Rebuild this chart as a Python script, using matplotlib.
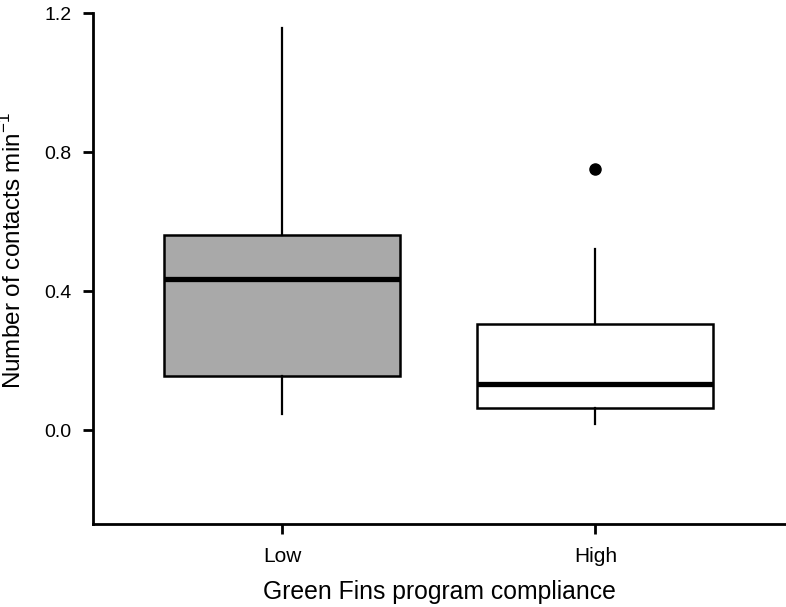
import matplotlib
matplotlib.use("Agg")
import matplotlib.pyplot as plt

# ---------------- Data ----------------
groups = ["Low", "High"]
whisker_low = [0.046, 0.017]
q1 = [0.156, 0.065]
median = [0.434, 0.133]
q3 = [0.562, 0.306]
whisker_high = [1.156, 0.521]
outliers = [[], [0.751]]
box_colors = ["#a9a9a9", "#ffffff"]

y_ticks = [0.0, 0.4, 0.8, 1.2]

plt.rcParams["font.family"] = ["Liberation Sans", "DejaVu Sans"]

fig = plt.figure(figsize=(7.86, 6.07), dpi=100)
ax = fig.add_axes([93 / 786, 1 - 524 / 607, 1 - 93 / 786, (524 - 13) / 607])

stats = []
for i, g in enumerate(groups):
    stats.append({
        "label": g, "whislo": whisker_low[i], "q1": q1[i], "med": median[i],
        "q3": q3[i], "whishi": whisker_high[i], "fliers": outliers[i],
    })

bp = ax.bxp(stats, positions=[1, 2], widths=0.753, patch_artist=True,
            showcaps=False,
            boxprops=dict(linewidth=1.8, edgecolor="black"),
            whiskerprops=dict(linewidth=1.6, color="black"),
            medianprops=dict(linewidth=3.8, color="black", solid_capstyle="butt"),
            flierprops=dict(marker="o", markerfacecolor="black",
                            markeredgecolor="black", markersize=8))
for patch, c in zip(bp["boxes"], box_colors):
    patch.set_facecolor(c)

ax.set_xlim(0.397, 2.608)
ax.set_ylim(-0.27, 1.2)
ax.set_yticks(y_ticks)
ax.set_yticklabels([f"{v:.1f}" for v in y_ticks])

for s in ["top", "right"]:
    ax.spines[s].set_visible(False)
for s in ["left", "bottom"]:
    ax.spines[s].set_linewidth(2.0)
ax.tick_params(axis="both", direction="out", length=7.5, width=2.0)
ax.tick_params(axis="x", pad=9, labelsize=15)
ax.tick_params(axis="y", pad=8, labelsize=14)

ax.set_xlabel("Green Fins program compliance", fontsize=17.8, labelpad=10)
ax.set_ylabel("Number of contacts min$^{\\mathregular{-1}}$", fontsize=17.5)
ax.yaxis.set_label_coords(-0.097, 0.536)

fig.savefig("out.png", dpi=100)
